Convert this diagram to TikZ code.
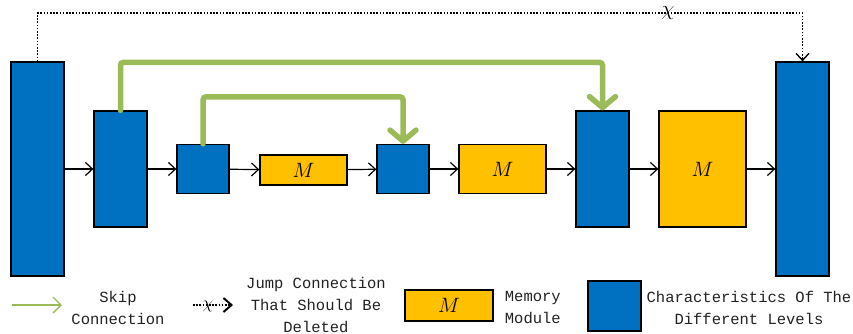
\documentclass[tikz,border=0pt]{standalone}
\usepackage{fontspec}
\setmonofont{Liberation Mono}
\usetikzlibrary{arrows.meta,positioning}
\definecolor{levelblue}{HTML}{0070C0}
\definecolor{memyellow}{HTML}{FFC000}
\definecolor{skipgreen}{HTML}{9BBB59}
\definecolor{legendgray}{HTML}{222222}

\begin{document}
\begin{tikzpicture}[x=1pt, y=-1pt, line width=1.2pt, >={Straight Barb[length=7pt,width=13pt]},
  level/.style={draw, fill=levelblue, inner sep=0pt, line width=1.3pt},
  memory/.style={draw, fill=memyellow, inner sep=0pt, line width=1.3pt, font=\fontsize{20}{24}\selectfont},
  skipline/.style={skipgreen, line width=5.5pt, line cap=round, rounded corners=3pt, -{Straight Barb[length=11pt,width=26pt,round]}},
  jumpline/.style={line width=1.4pt, dash pattern=on 1.6pt off 1.6pt, ->},
  legend/.style={font=\ttfamily\fontsize{15.5}{22}\selectfont, text=legendgray, align=center}]
\useasboundingbox (0,0) rectangle (853,334);
\node[level, minimum width=53, minimum height=214] (f1) at (37.5,169) {};
\node[level, minimum width=53, minimum height=116] (f2) at (120.5,169) {};
\node[level, minimum width=52, minimum height=49] (f3) at (203,169) {};
\node[memory, minimum width=87, minimum height=30] (m1) at (303.5,170) {$M$};
\node[level, minimum width=52, minimum height=49] (f4) at (403,169) {};
\node[memory, minimum width=87, minimum height=49] (m2) at (502.5,169) {$M$};
\node[level, minimum width=53, minimum height=116] (f5) at (602.5,169) {};
\node[memory, minimum width=87, minimum height=116] (m3) at (702.5,169) {$M$};
\node[level, minimum width=53, minimum height=214] (f6) at (802.5,169) {};
\foreach \a/\b in {f1/f2, f2/f3, f3/m1, m1/f4, f4/m2, m2/f5, f5/m3, m3/f6}
  \draw[->] (\a) -- (\b);
\draw[skipline] (f2.north) -- ++(0,-48) -| (f5.north);
\draw[skipline] (f3.north) -- ++(0,-47) -| (f4.north);
\node[font=\fontsize{20}{24}\selectfont] (chi) at (668,13) {$\chi$};
\draw[jumpline] (f1.north) |- (chi.center) -| (f6.north);
\coordinate (sk1) at (12,305);
\coordinate (sk2) at (62,305);
\draw[skipgreen, line width=1.3pt, -{Straight Barb[length=8pt,width=16pt]}] (sk1) -- (sk2);
\node[legend] (sktext) at (118,308) {Skip\\Connection};
\coordinate (jp1) at (193,305);
\coordinate (jp2) at (233,305);
\draw[jumpline, -{Straight Barb[length=8pt,width=14pt,line width=2pt]}] (jp1) -- (jp2);
\node[font=\fontsize{16}{20}\selectfont, inner sep=0pt] (jpchi) at (208,306) {$\chi$};
\node[legend] (jptext) at (316,305) {Jump Connection\\That Should Be\\Deleted};
\node[memory, minimum width=88, minimum height=31] (lm) at (449,305.5) {$M$};
\node[legend, anchor=west, align=left] (lmtext) at (501,307) {Memory\\Module};
\node[level, minimum width=53, minimum height=50] (lb) at (614.5,306) {};
\node[legend] (lbtext) at (749,308) {Characteristics Of The\\Different Levels};
\end{tikzpicture}
\end{document}
